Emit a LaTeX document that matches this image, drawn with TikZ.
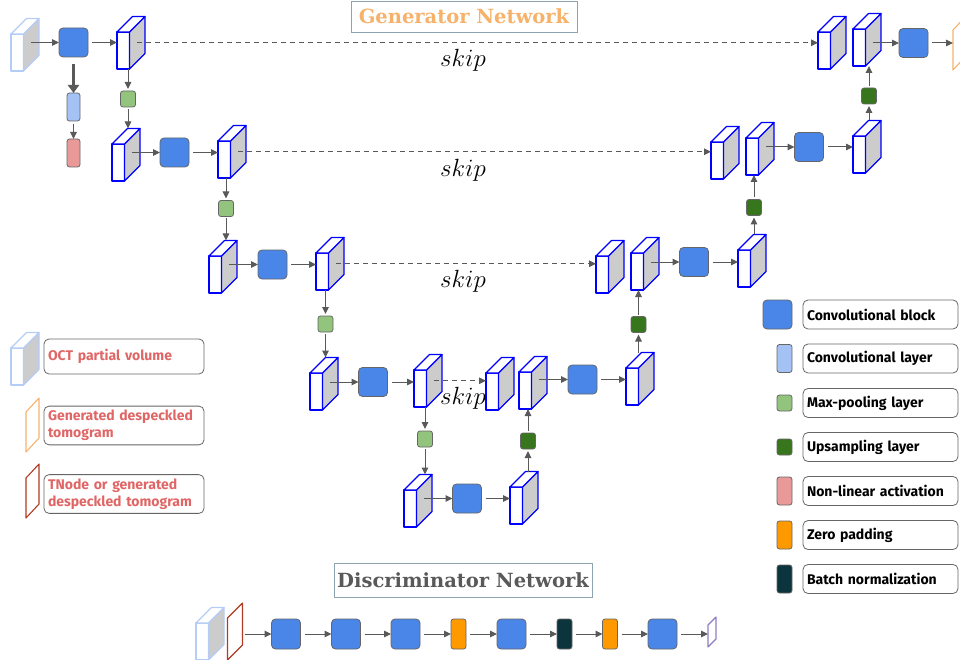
\documentclass[tikz,border=0pt]{standalone}
\usepackage{fontspec}
\setsansfont{Fira Sans}
\newfontfamily\titlefont{DejaVu Serif}
\usetikzlibrary{arrows.meta,calc}
\definecolor{cblock}{HTML}{4A86E8}
\definecolor{clayer}{HTML}{A4C2F4}
\definecolor{mpool}{HTML}{93C47D}
\definecolor{upsamp}{HTML}{38761D}
\definecolor{nonlin}{HTML}{EA9999}
\definecolor{zpad}{HTML}{FF9900}
\definecolor{bnorm}{HTML}{0C343D}
\definecolor{genor}{HTML}{F6B26B}
\definecolor{tnred}{HTML}{B03A22}
\definecolor{purp}{HTML}{8E7CC3}
\definecolor{tblue}{HTML}{0000FF}
\definecolor{lblue}{HTML}{B4CDF7}
\definecolor{sidegray}{HTML}{CCCCCC}
\definecolor{edge}{HTML}{666666}
\definecolor{arrgray}{HTML}{595959}
\definecolor{titlebd}{HTML}{8DA4B0}
\definecolor{legred}{HTML}{E06666}
\definecolor{dgray}{HTML}{595959}
\newcommand{\mytensor}[4][tblue]{%
  \node[tfront, draw=#1] (#2) at ({#3+6.25},{#4+18.5}) {};
  \filldraw[tline, draw=#1, fill=sidegray] (#2.north east) -- ++(15.5,-15.5) -- ++(0,37) -- (#2.south east) -- cycle;
  \filldraw[tline, draw=#1, fill=white] (#2.north west) -- ++(15.5,-15.5) -- ++(12.5,0) -- (#2.north east) -- cycle;
  \coordinate (#2-s) at ($(#2.east)+(7.75,-7.75)$);
  \coordinate (#2-t) at ($(#2.north)+(7.75,-15.5)$);
}
\newcommand{\myslab}[7]{%
  \draw[draw=#2, line width=1.1pt, line join=round] (#3,#4) -- ++(#6,-#7) -- ++(0,#5) -- ++(-#6,#7) -- cycle;
  \coordinate (#1) at (#3,{#4+#5/2});
  \coordinate (#1-e) at ({#3+#6},{#4+#5/2-#7/2});
}
\begin{document}
\begin{tikzpicture}[x=1pt,y=-1pt,
  tline/.style={line width=1.2pt, line join=round},
  tfront/.style={rectangle, minimum width=12.5pt, minimum height=37pt, inner sep=0pt, outer sep=0pt, fill=white, tline},
  blk/.style={rectangle, rounded corners=4pt, draw=edge, line width=0.8pt, inner sep=0pt, outer sep=0pt},
  cb/.style={blk, fill=cblock, minimum width=29pt, minimum height=29pt},
  smallb/.style={blk, rounded corners=2.5pt, minimum width=13pt, minimum height=28pt},
  mp/.style={blk, rounded corners=2.5pt, minimum width=15pt, minimum height=16pt, fill=mpool},
  up/.style={blk, rounded corners=2.5pt, minimum width=15pt, minimum height=16pt, fill=upsamp},
  arr/.style={draw=arrgray, line width=1pt, -{Triangle[length=7pt,width=6.5pt]}},
  thickarr/.style={draw=arrgray, line width=3.5pt, -{Triangle[length=8pt,width=11pt]}},
  skipl/.style={draw=arrgray, line width=0.9pt, dash pattern=on 5pt off 4pt, -{Triangle[length=7pt,width=6.5pt]}},
  skiplab/.style={inner sep=0pt, font=\fontsize{23}{26}\selectfont},
  lbox/.style={draw=edge, rounded corners=5pt, line width=0.8pt, text width=147pt, inner sep=4pt, align=left, font=\sffamily\bfseries\fontsize{14}{17}\selectfont},
  llbox/.style={lbox, text width=152pt},
  ttl/.style={draw=titlebd, line width=0.8pt, inner sep=0pt, font=\titlefont\bfseries\fontsize{19.5}{22}\selectfont}
]
\useasboundingbox (0,0) rectangle (960,660);

% ---------------- Generator ----------------
\node[ttl, text=genor, minimum width=226pt, minimum height=31pt] (GT) at (464,16.5) {Generator Network};

% tensors
\mytensor[lblue]{IN}{11}{34}
\mytensor{T1}{117}{32}
\mytensor{T2a}{112}{144}
\mytensor{T2b}{218}{141}
\mytensor{T3a}{209}{256}
\mytensor{T3b}{316}{253}
\mytensor{T4a}{310}{373}
\mytensor{T4b}{414}{370}
\mytensor{T5a}{404}{490}
\mytensor{T5b}{510}{487}
\mytensor{T4c}{486}{373}
\mytensor{T4d}{519}{372}
\mytensor{T4e}{626}{368}
\mytensor{T3c}{596}{256}
\mytensor{T3d}{631}{253}
\mytensor{T3e}{738}{250}
\mytensor{T2c}{711}{142}
\mytensor{T2d}{746}{138}
\mytensor{T2e}{853}{136}
\mytensor{T1c}{818}{32}
\mytensor{T1d}{853}{29}
\myslab{OUT}{genor}{953}{30}{40}{13}{14}

% blocks
\node[cb] (CB0) at (73.5,42.5) {};
\node[cb] (CB2) at (174.5,152.5) {};
\node[cb] (CB3) at (272.5,264.5) {};
\node[cb] (CB4) at (373,382) {};
\node[cb] (CB5) at (467,498.5) {};
\node[cb] (CB4r) at (582.5,379.5) {};
\node[cb] (CB3r) at (694,262) {};
\node[cb] (CB2r) at (809,147) {};
\node[cb] (CB1r) at (913.5,43) {};
\node[smallb, fill=clayer] (CL) at (73.5,107) {};
\node[smallb, fill=nonlin] (NA) at (73.5,153) {};
\node[mp] (MP1) at (128,99) {};
\node[mp] (MP2) at (226,208.5) {};
\node[mp] (MP3) at (325.5,324) {};
\node[mp] (MP4) at (425,439) {};
\node[up] (UP5) at (528,441) {};
\node[up] (UP4) at (638.5,324.5) {};
\node[up] (UP3) at (754,207.5) {};
\node[up] (UP2) at (869,96) {};

% row 1
\draw[arr] (IN-s |- CB0) -- (CB0.west);
\draw[arr] ($(CB0.east)+(4,0)$) -- (T1.west |- CB0);
\draw[thickarr] ($(CB0.south)+(0,7)$) -- (CL.north);
\draw[arr] ($(CL.south)+(0,3)$) -- (NA.north);
\draw[skipl] (T1-s) -- (T1c.west |- T1-s);
\draw[arr] (T1d-s |- CB1r) -- (CB1r.west);
\draw[arr] ($(CB1r.east)+(4,0)$) -- (OUT |- CB1r);
% down path
\draw[arr] (MP1 |- T1.south) -- ($(MP1.north)+(0,-2)$);
\draw[arr] ($(MP1.south)+(0,2)$) -- (MP1 |- T2a-t);
\draw[arr] (T2a-s |- CB2) -- (CB2.west);
\draw[arr] ($(CB2.east)+(4,0)$) -- (T2b.west |- CB2);
\draw[skipl] (T2b-s) -- (T2c.west |- T2b-s);
\draw[arr] (MP2 |- T2b.south) -- ($(MP2.north)+(0,-2)$);
\draw[arr] ($(MP2.south)+(0,2)$) -- (MP2 |- T3a-t);
\draw[arr] (T3a-s |- CB3) -- (CB3.west);
\draw[arr] ($(CB3.east)+(4,0)$) -- (T3b.west |- CB3);
\draw[skipl] (T3b-s) -- (T3c.west |- T3b-s);
\draw[arr] (MP3 |- T3b.south) -- ($(MP3.north)+(0,-2)$);
\draw[arr] ($(MP3.south)+(0,2)$) -- (MP3 |- T4a-t);
\draw[arr] (T4a-s |- CB4) -- (CB4.west);
\draw[arr] ($(CB4.east)+(4,0)$) -- (T4b.west |- CB4);
\draw[skipl] (T4b-s) -- (T4c.west |- T4b-s);
\draw[arr] (MP4 |- T4b.south) -- ($(MP4.north)+(0,-2)$);
\draw[arr] ($(MP4.south)+(0,2)$) -- (MP4 |- T5a-t);
\draw[arr] (T5a-s |- CB5) -- (CB5.west);
\draw[arr] ($(CB5.east)+(4,0)$) -- (T5b.west |- CB5);
% up path
\draw[arr] (UP5 |- T5b-t) -- ($(UP5.south)+(0,2)$);
\draw[arr] ($(UP5.north)+(0,-2)$) -- (UP5 |- T4d.south);
\draw[arr] (T4d-s |- CB4r) -- (CB4r.west);
\draw[arr] ($(CB4r.east)+(4,0)$) -- (T4e.west |- CB4r);
\draw[arr] (UP4 |- T4e-t) -- ($(UP4.south)+(0,2)$);
\draw[arr] ($(UP4.north)+(0,-2)$) -- (UP4 |- T3d.south);
\draw[arr] (T3d-s |- CB3r) -- (CB3r.west);
\draw[arr] ($(CB3r.east)+(4,0)$) -- (T3e.west |- CB3r);
\draw[arr] (UP3 |- T3e-t) -- ($(UP3.south)+(0,2)$);
\draw[arr] ($(UP3.north)+(0,-2)$) -- (UP3 |- T2d.south);
\draw[arr] (T2d-s |- CB2r) -- (CB2r.west);
\draw[arr] ($(CB2r.east)+(4,0)$) -- (T2e.west |- CB2r);
\draw[arr] (UP2 |- T2e-t) -- ($(UP2.south)+(0,2)$);
\draw[arr] ($(UP2.north)+(0,-2)$) -- (UP2 |- T1d.south);

% skip labels
\node[skiplab] (S1) at (463,60) {$skip$};
\node[skiplab] (S2) at (463,170) {$skip$};
\node[skiplab] (S3) at (463,281) {$skip$};
\node[skiplab] (S4) at (463,398) {$skip$};

% ---------------- Left legend ----------------
\mytensor[lblue]{LIN}{11}{348}
\node[llbox, text=legred, minimum height=35pt] (LL1) at (124,356.5) {OCT partial volume};
\myslab{LOR}{genor}{26}{412}{40}{13}{14}
\node[llbox, text=legred, minimum height=35pt] (LL2) at (124,425.5) {Generated despeckled\\tomogram};
\myslab{LRD}{tnred}{26}{478}{40}{13}{14}
\node[llbox, text=legred, minimum height=34pt] (LL3) at (124,494) {TNode or generated\\despeckled tomogram};

% ---------------- Right legend ----------------
\node[cb] (RL1) at (777.5,314.5) {};
\node[lbox, minimum height=29pt] (RT1) at (880.5,314.5) {Convolutional block};
\node[smallb, minimum width=15pt, fill=clayer] (RL2) at (784.5,358.5) {};
\node[lbox, minimum height=29pt] (RT2) at (880.5,358.5) {Convolutional layer};
\node[mp] (RL3) at (784.5,403) {};
\node[lbox, minimum height=29pt] (RT3) at (880.5,403) {Max-pooling layer};
\node[up] (RL4) at (784.5,447) {};
\node[lbox, minimum height=29pt] (RT4) at (880.5,447) {Upsampling layer};
\node[smallb, minimum width=15pt, fill=nonlin] (RL5) at (784.5,491) {};
\node[lbox, minimum height=29pt] (RT5) at (880.5,491) {Non-linear activation};
\node[smallb, minimum width=15pt, fill=zpad] (RL6) at (784.5,535) {};
\node[lbox, minimum height=29pt] (RT6) at (880.5,535) {Zero padding};
\node[smallb, minimum width=15pt, fill=bnorm] (RL7) at (784.5,579) {};
\node[lbox, minimum height=29pt] (RT7) at (880.5,579) {Batch normalization};

% ---------------- Discriminator ----------------
\node[ttl, text=dgray, minimum width=258pt, minimum height=34pt] (DT) at (463,580.5) {Discriminator Network};
\mytensor[lblue]{DIN}{196}{623}
\myslab{DR}{tnred}{227.5}{618}{42}{15}{15}
\node[cb, minimum height=30pt] (D1) at (286,634) {};
\node[cb, minimum height=30pt] (D2) at (346,634) {};
\node[cb, minimum height=30pt] (D3) at (405.5,634) {};
\node[smallb, minimum width=15pt, minimum height=30pt, fill=zpad] (D4) at (458.5,634) {};
\node[cb, minimum height=30pt] (D5) at (511.5,634) {};
\node[smallb, minimum width=15pt, minimum height=30pt, fill=bnorm] (D6) at (564.5,634) {};
\node[smallb, minimum width=15pt, minimum height=30pt, fill=zpad] (D7) at (610,634) {};
\node[cb, minimum height=30pt] (D8) at (662.5,634) {};
\myslab{DP}{purp}{708}{625}{22}{8}{8}
\draw[arr] ($(DR-e |- D1)+(2,0)$) -- (D1.west);
\draw[arr] ($(D1.east)+(4,0)$) -- (D2.west);
\draw[arr] ($(D2.east)+(4,0)$) -- (D3.west);
\draw[arr] ($(D3.east)+(4,0)$) -- (D4.west);
\draw[arr] ($(D4.east)+(4,0)$) -- (D5.west);
\draw[arr] ($(D5.east)+(4,0)$) -- (D6.west);
\draw[arr] ($(D6.east)+(4,0)$) -- (D7.west);
\draw[arr] ($(D7.east)+(4,0)$) -- (D8.west);
\draw[arr] ($(D8.east)+(4,0)$) -- (DP |- D8);
\end{tikzpicture}
\end{document}
